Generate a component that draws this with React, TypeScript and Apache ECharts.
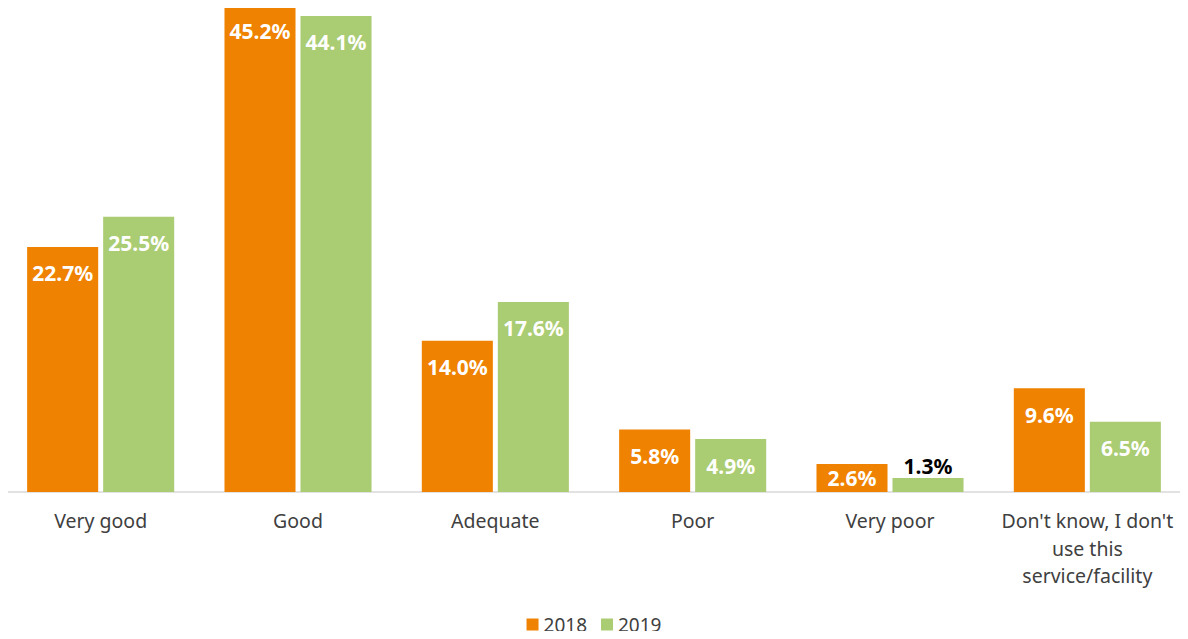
import React, { useEffect, useRef } from "react";
import * as echarts from "echarts";

const categories = ["Very good", "Good", "Adequate", "Poor", "Very poor", "Don't know, I don't\nuse this\nservice/facility"];
const values2018 = [22.7, 45.2, 14.0, 5.8, 2.6, 9.6];
const values2019 = [25.5, 44.1, 17.6, 4.9, 1.3, 6.5];
const seriesNames = ["2018", "2019"];

const FONT = "'Noto Sans', 'Open Sans', sans-serif";

export default function App() {
  const ref = useRef<HTMLDivElement>(null);
  useEffect(() => {
    if (!ref.current) return;
    const chart = echarts.init(ref.current, undefined, { renderer: "svg" });
    const insideLabel = {
      show: true,
      position: "insideTop",
      distance: 16,
      color: "#ffffff",
      fontWeight: "bold",
      fontSize: 21,
      fontFamily: FONT,
      formatter: (p: any) => p.value.toFixed(1) + "%",
    };
    const makeData = (vals: number[]) =>
      vals.map((v) => {
        if (v < 2) return { value: v, label: { position: "top", distance: 1, color: "#000000" } };
        if (v < 4) return { value: v, label: { position: "inside" } };
        return { value: v };
      });
    chart.setOption({
      animation: false,
      grid: { left: 2, right: 2, top: 4, bottom: 147 },
      legend: {
        bottom: 0,
        left: "center",
        itemWidth: 12,
        itemHeight: 12,
        itemGap: 14,
        icon: "rect",
        textStyle: { fontSize: 19, color: "#404040", fontFamily: FONT },
        data: seriesNames,
      },
      xAxis: {
        type: "category",
        data: categories,
        axisTick: { show: false },
        axisLine: { lineStyle: { color: "#d9d9d9", width: 1.5 } },
        axisLabel: {
          color: "#404040",
          fontSize: 19.5,
          fontFamily: FONT,
          margin: 15,
          lineHeight: 27.5,
          interval: 0,
        },
      },
      yAxis: {
        type: "value",
        min: 0,
        max: 45.2,
        show: false,
        splitLine: { show: false },
      },
      series: [
        {
          name: seriesNames[0],
          type: "bar",
          data: makeData(values2018),
          itemStyle: { color: "#ef8200" },
          barWidth: "36%",
          barGap: "7%",
          label: insideLabel,
        },
        {
          name: seriesNames[1],
          type: "bar",
          data: makeData(values2019),
          itemStyle: { color: "#aacc72" },
          barWidth: "36%",
          label: insideLabel,
        },
      ],
    });
    return () => chart.dispose();
  }, []);
  return <div ref={ref} style={{ width: 1188, height: 639, margin: -8 }} />;
}
